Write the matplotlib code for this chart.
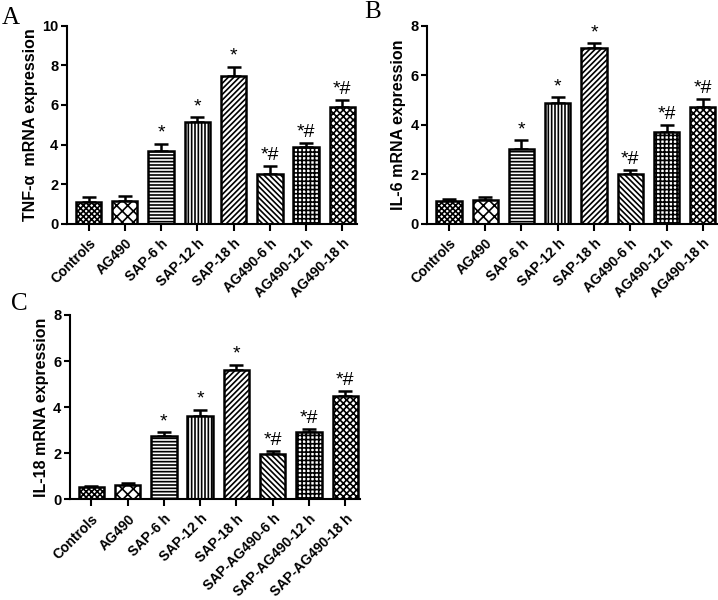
import numpy as np
import matplotlib
matplotlib.use("Agg")
import matplotlib.pyplot as plt

plt.rcParams["font.family"] = "Liberation Sans"
plt.rcParams["font.weight"] = "bold"
plt.rcParams["hatch.linewidth"] = 1.2

# Group labels
groups_ab = ["Controls", "AG490", "SAP-6 h", "SAP-12 h", "SAP-18 h",
             "AG490-6 h", "AG490-12 h", "AG490-18 h"]
groups_c = ["Controls", "AG490", "SAP-6 h", "SAP-12 h", "SAP-18 h",
            "SAP-AG490-6 h", "SAP-AG490-12 h", "SAP-AG490-18 h"]

# Mean expression and upper error (SEM)
tnf_mean = [1.12, 1.15, 3.66, 5.12, 7.48, 2.53, 3.89, 5.89]
tnf_err = [0.25, 0.25, 0.37, 0.27, 0.44, 0.37, 0.2, 0.37]
il6_mean = [0.91, 0.98, 3.02, 4.9, 7.09, 2.03, 3.69, 4.71]
il6_err = [0.11, 0.09, 0.35, 0.21, 0.2, 0.16, 0.3, 0.32]
il18_mean = [0.51, 0.62, 2.75, 3.62, 5.61, 1.97, 2.94, 4.5]
il18_err = [0.08, 0.07, 0.16, 0.26, 0.22, 0.14, 0.11, 0.2]

# Significance marks above each bar
marks = ["", "", "*", "*", "*", "*#", "*#", "*#"]

hatches = ["xxxxxx", "xxx", "-----", "|||||", "//////",
           "\\\\\\\\\\\\", "++++", "xxxxx"]

fig = plt.figure(figsize=(7.18, 6.0), dpi=100)


def draw_panel(rect, labels, means, errs, ymax, ylabel, letter, letter_pos):
    ax = fig.add_axes(rect)
    x = np.arange(len(labels))
    bars = ax.bar(x, means, width=0.7, color="white", edgecolor="black",
                  linewidth=1.8, zorder=2)
    for b, h in zip(bars, hatches):
        b.set_hatch(h)
    ax.errorbar(x, means, yerr=[np.zeros(len(errs)), errs], fmt="none",
                ecolor="black", elinewidth=1.8, capsize=5, capthick=1.8,
                zorder=1)
    for xi, m, e, s in zip(x, means, errs, marks):
        if s:
            ax.annotate(s, xy=(xi, m + e), xytext=(0, 1.5),
                        textcoords="offset points", ha="center", va="bottom",
                        fontsize=14, fontweight="normal")
    ax.set_xlim(-0.6, len(labels) - 0.6)
    ax.set_ylim(0, ymax)
    yt = np.arange(0, ymax + 0.1, 2)
    ax.set_yticks(yt)
    ax.set_yticklabels([f"{v:g}" for v in yt], fontsize=10.5,
                       fontweight="bold")
    ax.set_xticks(x)
    ax.set_xticklabels(labels, rotation=45, ha="right", rotation_mode="anchor",
                       fontsize=10, fontweight="bold")
    ax.tick_params(axis="y", width=1.5, length=4, pad=2)
    ax.tick_params(axis="x", width=1.5, length=5, pad=4)
    ax.set_ylabel(ylabel, fontsize=11.5, fontweight="bold", labelpad=3)
    for side in ["top", "right"]:
        ax.spines[side].set_visible(False)
    for side in ["left", "bottom"]:
        ax.spines[side].set_linewidth(1.5)
    fig.text(letter_pos[0], letter_pos[1], letter, fontsize=18,
             family="Liberation Serif", fontweight="normal", va="top")
    return ax


draw_panel([0.093, 0.627, 0.404, 0.330], groups_ab, tnf_mean, tnf_err, 10,
           "TNF-α  mRNA expression", "A", (0.003, 0.988))
draw_panel([0.595, 0.627, 0.404, 0.330], groups_ab, il6_mean, il6_err, 8,
           "IL-6 mRNA expression", "B", (0.507, 0.998))
draw_panel([0.097, 0.168, 0.404, 0.307], groups_c, il18_mean, il18_err, 8,
           "IL-18 mRNA expression", "C", (0.015, 0.512))

fig.savefig("out.png", dpi=100)
